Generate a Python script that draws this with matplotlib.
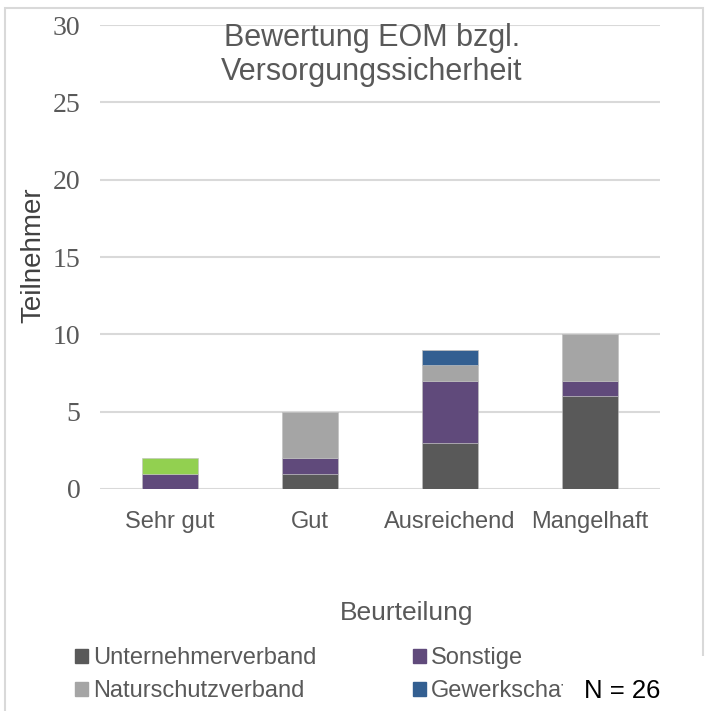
import matplotlib
matplotlib.use("Agg")
import matplotlib.pyplot as plt
from matplotlib.patches import Rectangle, Patch
import numpy as np

categories = ["Sehr gut", "Gut", "Ausreichend", "Mangelhaft"]
series_names = ["Unternehmerverband", "Sonstige", "Naturschutzverband", "Gewerkschaft", "Weitere"]
unternehmerverband = [0, 1, 3, 6]
sonstige = [1, 1, 4, 1]
naturschutzverband = [0, 3, 1, 3]
gewerkschaft = [0, 0, 1, 0]
weitere = [1, 0, 0, 0]
colors = ["#595959", "#604a7b", "#a5a5a5", "#335f91", "#92d050"]
yticks = [0, 5, 10, 15, 20, 25, 30]

W, H = 705, 711
fig = plt.figure(figsize=(W / 100, H / 100), dpi=100)
ax = fig.add_axes([100 / W, 1 - 489 / H, 560 / W, 464 / H])

x = np.arange(len(categories))
bottom = np.zeros(len(categories))
handles = []
for name, vals, c in zip(series_names,
                         [unternehmerverband, sonstige, naturschutzverband, gewerkschaft, weitere],
                         colors):
    vals = np.array(vals, dtype=float)
    ax.bar(x, vals, 0.4, bottom=bottom, color=c, edgecolor="#bfbfbf",
           linewidth=0.4, zorder=3, label=name)
    handles.append(Patch(color=c, label=name))
    bottom += vals

ax.set_xlim(-0.5, 3.5)
ax.set_ylim(0, 30)
ax.set_yticks(yticks)
ax.grid(axis="y", color="#d9d9d9", linewidth=1.5, zorder=0)
for s in ax.spines.values():
    s.set_visible(False)
ax.tick_params(length=0)
ax.set_xticks(x)
ax.set_xticklabels(categories, fontsize=17, color="#595959", family="Liberation Sans")
ax.tick_params(axis="x", pad=16)
ax.tick_params(axis="y", pad=14)
for lbl in ax.get_yticklabels():
    lbl.set_family("Liberation Serif")
    lbl.set_fontsize(20)
    lbl.set_color("#595959")

fig.text(33 / W, 1 - 255 / H, "Teilnehmer", rotation=90, ha="center", va="center",
         fontsize=20, color="#404040", family="Liberation Sans")
fig.text(407 / W, 1 - 613 / H, "Beurteilung", ha="center", va="center",
         fontsize=19, color="#595959", family="Liberation Sans")
fig.text(372 / W, 1 - 55 / H, "Bewertung EOM bzgl.\nVersorgungssicherheit", ha="center",
         va="center", fontsize=22, color="#595959", family="Liberation Sans",
         linespacing=1.15, zorder=5)

order = [0, 2, 1, 3]
leg = fig.legend(handles=[handles[i] for i in order], ncol=2, loc="upper left",
                 bbox_to_anchor=(66 / W, 1 - 638 / H), frameon=False,
                 prop={"family": "Liberation Sans", "size": 17},
                 handlelength=0.55, handleheight=0.55, handletextpad=0.2,
                 columnspacing=4.1, labelspacing=0.45, borderaxespad=0)
leg.set_zorder(5)
for t in leg.get_texts():
    t.set_color("#595959")

fig.patches.append(Rectangle((5 / W, -0.01), 698 / W, 1 - 8 / H + 0.01,
                             transform=fig.transFigure, fill=False,
                             edgecolor="#d9d9d9", linewidth=1.5, zorder=0))
fig.patches.append(Rectangle((563 / W, -0.01), 150 / W, (711 - 656) / H + 0.01,
                             transform=fig.transFigure, facecolor="white",
                             edgecolor="none", zorder=15))
fig.text(660 / W, 1 - 691 / H, "N = 26", ha="right", va="center", fontsize=18.5,
         color="black", family="Liberation Sans", zorder=20)

fig.savefig("out.png", dpi=100)
